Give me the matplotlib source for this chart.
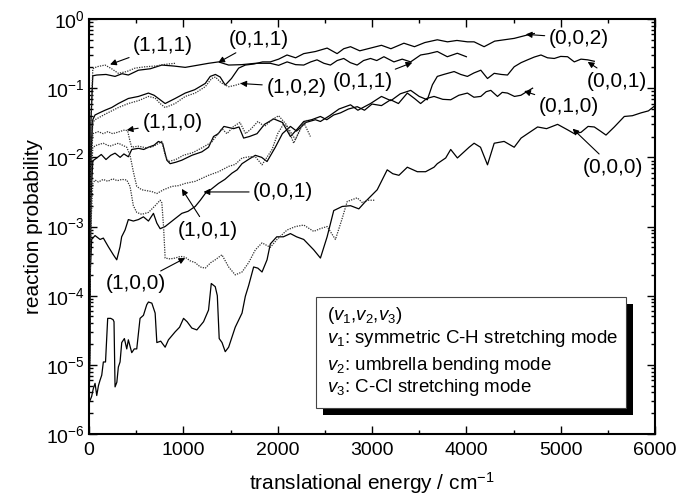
import matplotlib
matplotlib.use("Agg")
import matplotlib.pyplot as plt
from matplotlib.patches import Rectangle
from matplotlib.ticker import LogLocator, MultipleLocator, NullFormatter

plt.rcParams['font.family'] = ['Liberation Sans', 'DejaVu Sans']
plt.rcParams['mathtext.fontset'] = 'custom'
plt.rcParams['mathtext.rm'] = 'Liberation Sans'
plt.rcParams['mathtext.it'] = 'Liberation Sans:italic'

# reaction probability vs. translational energy (cm^-1), one array pair per initial state
E_000 = [0, 28, 45, 64, 82, 100, 117, 135, 152, 175,
         198, 230, 255, 265, 276, 295, 311, 329, 347, 375,
         400, 417, 453, 480, 506, 541, 577, 612, 630, 666,
         701, 719, 760, 807, 842, 913, 960, 1002, 1040, 1090,
         1143, 1214, 1267, 1296, 1338, 1360, 1380, 1410, 1444, 1480,
         1550, 1622, 1657, 1692, 1745, 1790, 1834, 1887, 1922, 1990,
         2060, 2135, 2200, 2276, 2382, 2453, 2524, 2594, 2684, 2772,
         2860, 2931, 3055, 3161, 3220, 3285, 3374, 3480, 3568, 3657,
         3692, 3781, 3834, 3905, 4029, 4082, 4150, 4224, 4295, 4400,
         4507, 4580, 4649, 4755, 4850, 4967, 5073, 5144, 5215, 5290,
         5356, 5420, 5480, 5568, 5674, 5760, 5852, 5930, 6000]
P_000 = [2.8e-6, 3.5e-6, 4.5e-6, 5.4e-6, 3.6e-6, 5.0e-6, 6.0e-6, 7.1e-6, 1.1e-5, 1.1e-5,
         4.7e-5, 4.7e-5, 4.5e-5, 4.2e-5, 4.8e-6, 5.6e-6, 9.3e-6, 1.1e-5, 2.1e-5, 2.4e-5,
         1.7e-5, 2.3e-5, 1.5e-5, 1.7e-5, 1.7e-5, 4.7e-5, 5.2e-5, 7.4e-5, 8.1e-5, 7.8e-5,
         5.6e-5, 2.1e-5, 2.2e-5, 1.8e-5, 2.3e-5, 3.0e-5, 3.5e-5, 4.7e-5, 4.2e-5, 3.4e-5,
         3.2e-5, 4.2e-5, 6.2e-5, 1.5e-4, 1.35e-4, 1.0e-4, 2.4e-5, 2.1e-5, 1.55e-5, 1.8e-5,
         3.5e-5, 5.6e-5, 9.8e-5, 1.4e-4, 2.6e-4, 2.5e-4, 2.2e-4, 3.3e-4, 5.6e-4, 7.1e-4,
         7.1e-4, 7.9e-4, 7.1e-4, 6.5e-4, 4.6e-4, 3.5e-4, 7.1e-4, 1.7e-3, 1.95e-3, 2.0e-3,
         1.8e-3, 2.3e-3, 3.4e-3, 6.6e-3, 5.8e-3, 5.5e-3, 7.2e-3, 6.2e-3, 6.2e-3, 7.2e-3,
         8.1e-3, 9.8e-3, 1.3e-2, 9.8e-3, 1.4e-2, 1.6e-2, 1.4e-2, 7.8e-3, 1.6e-2, 1.7e-2,
         1.4e-2, 1.9e-2, 2.2e-2, 2.75e-2, 2.6e-2, 3.0e-2, 2.5e-2, 2.2e-2, 2.3e-2, 2.8e-2,
         2.75e-2, 2.4e-2, 2.1e-2, 2.75e-2, 3.9e-2, 4.0e-2, 4.4e-2, 4.7e-2, 5.6e-2]

E_100 = [0, 20, 40, 64, 100, 150, 200, 250, 300, 350,
         400, 435, 470, 506, 559, 630, 701, 754, 772, 790,
         807, 860, 913, 970, 1020, 1070, 1126, 1180, 1232, 1290,
         1338, 1409, 1480, 1550, 1622, 1692, 1763, 1834, 1922, 1993,
         2099, 2190, 2276, 2382, 2450, 2524, 2612, 2680, 2737, 2843,
         2900, 2949, 3030]
P_100 = [3.2e-6, 1.0e-3, 4.2e-3, 4.7e-3, 4.4e-3, 4.8e-3, 4.5e-3, 4.9e-3, 4.6e-3, 4.8e-3,
         4.7e-3, 3.8e-3, 2.0e-3, 1.6e-3, 1.5e-3, 1.6e-3, 2.0e-3, 2.4e-3, 2.2e-3, 1.0e-3,
         3.5e-4, 3.4e-4, 3.5e-4, 3.7e-4, 3.6e-4, 3.2e-4, 3.0e-4, 2.6e-4, 2.5e-4, 3.0e-4,
         3.3e-4, 3.9e-4, 2.6e-4, 2.0e-4, 2.2e-4, 3.0e-4, 4.6e-4, 5.8e-4, 5.0e-4, 6.5e-4,
         8.9e-4, 1.0e-3, 1.05e-3, 8.5e-4, 9.3e-4, 1.0e-3, 6.5e-4, 1.26e-3, 2.3e-3, 2.6e-3,
         2.2e-3, 2.4e-3, 2.4e-3]

E_001 = [0, 15, 28, 64, 117, 152, 205, 258, 294, 329,
         346, 382, 417, 470, 524, 577, 630, 683, 719, 754,
         807, 900, 984, 1050, 1126, 1180, 1232, 1300, 1373, 1440,
         1515, 1570, 1622, 1700, 1763, 1830, 1887, 1975, 2050, 2135,
         2200, 2300, 2400, 2453, 2550, 2650, 2772, 2850, 2984, 3100,
         3200, 3300, 3410, 3500, 3586, 3640, 3692, 3760, 3870, 3940,
         4011, 4080, 4153, 4224, 4295, 4370, 4436, 4507, 4580, 4649,
         4720, 4791, 4860, 4932, 5000, 5073, 5144, 5215, 5286, 5356]
P_001 = [1.2e-6, 2.5e-4, 6.5e-4, 7.4e-4, 6.5e-4, 6.8e-4, 5.1e-4, 3.9e-4, 3.3e-4, 5.1e-4,
         7.1e-4, 8.9e-4, 1.26e-3, 1.2e-3, 1.26e-3, 1.38e-3, 1.2e-3, 1.55e-3, 1.12e-3, 9.3e-4,
         1.0e-3, 1.26e-3, 1.55e-3, 1.66e-3, 1.95e-3, 2.4e-3, 3.0e-3, 3.5e-3, 4.2e-3, 4.8e-3,
         5.9e-3, 6.6e-3, 8.1e-3, 9.5e-3, 1.07e-2, 1.0e-2, 8.7e-3, 1.4e-2, 2.2e-2, 2.8e-2,
         2.4e-2, 3.2e-2, 3.5e-2, 3.3e-2, 4.0e-2, 5.0e-2, 5.75e-2, 4.8e-2, 6.0e-2, 7.6e-2,
         6.6e-2, 8.3e-2, 9.3e-2, 7.6e-2, 6.8e-2, 0.112, 0.148, 0.158, 0.174, 0.158,
         0.148, 0.166, 0.182, 0.138, 0.164, 0.158, 0.155, 0.204, 0.234, 0.257,
         0.282, 0.302, 0.275, 0.269, 0.288, 0.285, 0.240, 0.263, 0.257, 0.245]

E_101 = [0, 20, 40, 82, 150, 220, 311, 400, 435, 470,
         506, 559, 610, 666, 719, 790, 878, 950, 1020, 1126,
         1200, 1267, 1373, 1480, 1550, 1622, 1700, 1763, 1834, 1940,
         2000, 2060, 2100, 2188, 2276, 2347]
P_101 = [1.2e-6, 3.2e-3, 1.4e-2, 1.5e-2, 1.6e-2, 1.45e-2, 1.6e-2, 1.4e-2, 1.07e-2, 6.2e-3,
         3.8e-3, 3.4e-3, 3.3e-3, 3.2e-3, 3.0e-3, 3.4e-3, 3.8e-3, 3.9e-3, 4.2e-3, 4.5e-3,
         5.0e-3, 5.5e-3, 6.2e-3, 7.4e-3, 7.9e-3, 9.8e-3, 1.02e-2, 1.02e-2, 7.8e-3, 1.3e-2,
         2.2e-2, 3.0e-2, 2.8e-2, 1.8e-2, 3.2e-2, 2.0e-2]

E_010 = [0, 20, 40, 82, 130, 180, 230, 276, 330, 370,
         417, 453, 524, 580, 630, 690, 736, 780, 825, 860,
         920, 984, 1090, 1196, 1267, 1320, 1370, 1430, 1533, 1590,
         1639, 1700, 1781, 1860, 1958, 2050, 2135, 2200, 2276, 2360,
         2453, 2520, 2594, 2666, 2750, 2843, 2920, 3000, 3100, 3197,
         3280, 3374, 3450, 3515, 3580, 3657, 3750, 3834, 3920, 4011,
         4080, 4153, 4210, 4259, 4330, 4380, 4436, 4510, 4578, 4640,
         4702]
P_010 = [1.2e-6, 2.5e-3, 8.9e-3, 9.8e-3, 1.1e-2, 9.3e-3, 1.07e-2, 1.15e-2, 1.0e-2, 1.12e-2,
         1.02e-2, 1.3e-2, 1.35e-2, 1.3e-2, 1.4e-2, 1.5e-2, 1.7e-2, 1.6e-2, 9.1e-3, 8.1e-3,
         8.5e-3, 9.1e-3, 1.07e-2, 1.2e-2, 1.4e-2, 2.0e-2, 2.2e-2, 2.8e-2, 2.6e-2, 2.75e-2,
         1.9e-2, 2.0e-2, 2.2e-2, 3.0e-2, 3.6e-2, 3.2e-2, 2.0e-2, 2.5e-2, 3.3e-2, 3.5e-2,
         3.9e-2, 3.5e-2, 4.1e-2, 4.4e-2, 5.0e-2, 5.4e-2, 4.8e-2, 5.9e-2, 5.6e-2, 6.8e-2,
         6.0e-2, 8.5e-2, 7.1e-2, 6.0e-2, 7.1e-2, 7.6e-2, 6.9e-2, 6.8e-2, 7.9e-2, 8.5e-2,
         7.4e-2, 7.6e-2, 8.9e-2, 9.3e-2, 7.6e-2, 8.7e-2, 8.5e-2, 7.6e-2, 7.9e-2, 8.9e-2,
         0.10]

E_110 = [0, 20, 40, 99, 150, 200, 250, 300, 382, 410,
         435, 453, 520, 600, 666, 740, 772, 807, 842, 920,
         1000, 1100, 1200, 1300, 1409, 1462, 1533, 1600, 1660, 1720,
         1790, 1860, 1940, 2010, 2090, 2170, 2250, 2320]
P_110 = [1.2e-6, 6.3e-3, 2.2e-2, 2.35e-2, 2.2e-2, 2.35e-2, 2.2e-2, 2.3e-2, 2.5e-2, 2.4e-2,
         1.7e-2, 1.4e-2, 1.45e-2, 1.38e-2, 1.4e-2, 1.6e-2, 1.7e-2, 1.07e-2, 8.7e-3, 9.3e-3,
         1.07e-2, 1.17e-2, 1.38e-2, 1.66e-2, 2.6e-2, 2.2e-2, 2.8e-2, 3.2e-2, 2.2e-2, 2.6e-2,
         3.3e-2, 2.8e-2, 3.5e-2, 4.0e-2, 3.0e-2, 1.6e-2, 2.8e-2, 3.5e-2]

E_011 = [0, 20, 40, 82, 180, 276, 350, 417, 524, 650,
         772, 900, 1020, 1161, 1267, 1373, 1480, 1620, 1763, 1922,
         2010, 2100, 2190, 2276, 2350, 2417, 2490, 2559, 2630, 2700,
         2770, 2842, 2910, 2984, 3050, 3126, 3232, 3320, 3409, 3515,
         3600, 3692, 3798, 3904, 4000]
P_011 = [1.2e-6, 3.2e-2, 0.151, 0.155, 0.158, 0.148, 0.162, 0.155, 0.182, 0.191,
         0.216, 0.209, 0.200, 0.216, 0.229, 0.240, 0.216, 0.219, 0.229, 0.229,
         0.214, 0.240, 0.219, 0.216, 0.240, 0.257, 0.229, 0.216, 0.251, 0.269,
         0.234, 0.216, 0.251, 0.269, 0.251, 0.285, 0.240, 0.263, 0.240, 0.302,
         0.316, 0.339, 0.285, 0.320, 0.285]

E_111 = [0, 20, 40, 82, 170, 240, 311, 400, 488, 594, 700, 807, 913]
P_111 = [1.2e-6, 3.2e-2, 0.191, 0.204, 0.216, 0.191, 0.164, 0.174, 0.195, 0.204, 0.209, 0.221, 0.229]

E_002 = [0, 20, 40, 64, 110, 170, 240, 311, 417, 524,
         630, 690, 754, 807, 913, 1020, 1120, 1232, 1285, 1340,
         1390, 1444, 1510, 1586, 1657, 1750, 1840, 1922, 2010, 2099,
         2190, 2276, 2400, 2524, 2630, 2700, 2772, 2870, 2984, 3100,
         3200, 3338, 3450, 3560, 3692, 3800, 3900, 4011, 4082, 4188,
         4300, 4401, 4507, 4649, 4720]
P_002 = [1.2e-6, 1.0e-2, 3.5e-2, 4.1e-2, 4.4e-2, 4.8e-2, 5.25e-2, 6.0e-2, 7.1e-2, 7.6e-2,
         8.5e-2, 7.9e-2, 6.8e-2, 6.0e-2, 7.1e-2, 8.5e-2, 9.5e-2, 0.117, 0.148, 0.158,
         0.145, 0.111, 0.138, 0.195, 0.216, 0.224, 0.240, 0.240, 0.263, 0.302,
         0.275, 0.316, 0.339, 0.380, 0.316, 0.372, 0.398, 0.347, 0.380, 0.417,
         0.372, 0.447, 0.398, 0.457, 0.501, 0.468, 0.490, 0.468, 0.468, 0.398,
         0.479, 0.501, 0.525, 0.589, 0.617]

E_102 = [0, 20, 40, 64, 170, 311, 417, 524, 630, 700, 754, 807,
         913, 1020, 1126, 1232, 1300, 1340, 1400, 1480, 1550, 1610, 1650]
P_102 = [1.2e-6, 6.3e-3, 3.2e-2, 3.5e-2, 4.2e-2, 5.25e-2, 6.0e-2, 6.6e-2, 7.6e-2, 7.2e-2, 6.0e-2, 5.25e-2,
         6.0e-2, 7.6e-2, 8.5e-2, 0.105, 0.138, 0.145, 0.120, 0.105, 0.110, 0.117, 0.120]

# state labels: text, arrow tip (E, P), text centre (E, P)
LABELS = [
    ("(1,1,1)", (223, 0.22), (786, 0.42)),
    ("(0,1,1)", (1370, 0.235), (1805, 0.50)),
    ("(1,0,2)", (1604, 0.117), (2198, 0.104)),
    ("(0,0,2)", (4630, 0.60), (5193, 0.53)),
    ("(0,1,1)", (3427, 0.235), (2900, 0.123)),
    ("(0,0,1)", (5286, 0.24), (5597, 0.127)),
    ("(0,1,0)", (4612, 0.091), (5087, 0.055)),
    ("(0,0,0)", (5126, 0.026), (5554, 7.2e-3)),
    ("(1,1,0)", (400, 0.0248), (884, 0.0316)),
    ("(0,0,1)", (1214, 3.16e-3), (2060, 3.16e-3)),
    ("(1,0,1)", (984, 3.5e-3), (1264, 8.9e-4)),
    ("(1,0,0)", (1020, 3.5e-4), (499, 1.48e-4)),
]

BOX_LINES = [r"$(v_1$,$v_2$,$v_3)$",
             r"$v_1$: symmetric C-H stretching mode",
             r"$v_2$: umbrella bending mode",
             r"$v_3$: C-Cl stretching mode"]
BOX_Y = [0.2867, 0.2313, 0.166, 0.111]

fig = plt.figure(figsize=(6.8, 4.98), dpi=100)
ax = fig.add_axes([0.1309, 0.1285, 0.8324, 0.8333])

solid = dict(color="black", lw=0.9, ls="-")
dotted = dict(color="#303030", lw=0.9, ls=(0, (1, 1)))

ax.plot(E_000, P_000, **solid)
ax.plot(E_001, P_001, **solid)
ax.plot(E_010, P_010, **solid)
ax.plot(E_011, P_011, **solid)
ax.plot(E_002, P_002, **solid)
ax.plot(E_100, P_100, **dotted)
ax.plot(E_101, P_101, **dotted)
ax.plot(E_110, P_110, **dotted)
ax.plot(E_111, P_111, **dotted)
ax.plot(E_102, P_102, **dotted)

ax.set_yscale("log")
ax.set_xlim(0, 6000)
ax.set_ylim(1e-6, 1)

ax.xaxis.set_major_locator(MultipleLocator(1000))
ax.xaxis.set_minor_locator(MultipleLocator(500))
ax.yaxis.set_major_locator(LogLocator(base=10, numticks=10))
ax.yaxis.set_minor_locator(LogLocator(base=10, subs=range(2, 10), numticks=10))
ax.yaxis.set_minor_formatter(NullFormatter())
ax.tick_params(which="both", direction="in", top=True, right=True, width=1.0,
               labelsize=14)
ax.tick_params(which="major", length=6)
ax.tick_params(which="minor", length=3)
ax.tick_params(axis="x", pad=6)
ax.tick_params(axis="y", pad=3)
for sp in ax.spines.values():
    sp.set_linewidth(1.5)

ax.set_xlabel(r"translational energy / cm$^{-1}$", fontsize=15, labelpad=8)
ax.set_ylabel("reaction probability", fontsize=15, labelpad=2)

for txt, tip, pos in LABELS:
    ax.annotate(txt, xy=tip, xytext=pos, ha="center", va="center", fontsize=15,
                arrowprops=dict(arrowstyle="-|>", color="black", lw=0.8,
                                mutation_scale=9, shrinkA=1, shrinkB=0))

# mode description box with drop shadow
bx, by, bw, bh = 0.401, 0.0627, 0.548, 0.267
ax.add_patch(Rectangle((bx + 0.0124, by - 0.0169), bw, bh, transform=ax.transAxes,
                       facecolor="black", edgecolor="none", zorder=5))
ax.add_patch(Rectangle((bx, by), bw, bh, transform=ax.transAxes,
                       facecolor="white", edgecolor="#444444", lw=0.8, zorder=6))
for line, y in zip(BOX_LINES, BOX_Y):
    ax.text(0.4205, y, line, transform=ax.transAxes,
            ha="left", va="center", fontsize=13.5, zorder=7)

fig.savefig("out.png", dpi=100)
